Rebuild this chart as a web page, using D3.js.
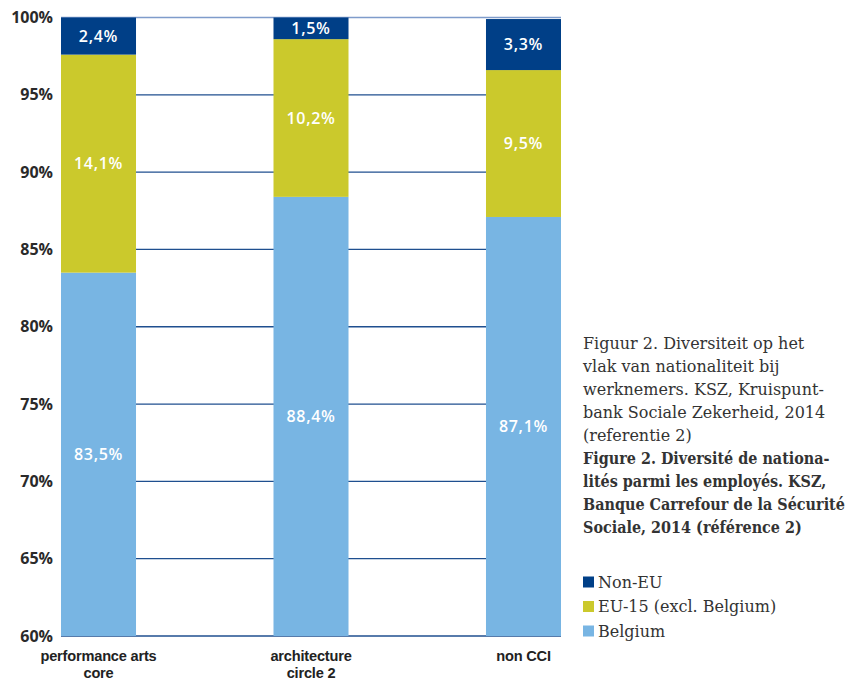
<!DOCTYPE html>
<html><head><meta charset="utf-8">
<script src="https://cdn.jsdelivr.net/npm/d3@7/dist/d3.min.js"></script>
<style>body{margin:0;background:#fff}svg{display:block}</style>
</head><body>
<svg id="c" width="848" height="680"></svg>
<script>
const categories = [["performance arts","core"],["architecture","circle 2"],["non CCI"]];
const categoryKeys = ["performance arts core","architecture circle 2","non CCI"];
const belgium = [83.5, 88.4, 87.1];
const eu15 = [14.1, 10.2, 9.5];
const nonEU = [2.4, 1.5, 3.3];
const seriesNames = ["Belgium","EU-15 (excl. Belgium)","Non-EU"];
const seriesColors = ["#78b5e3","#cbc92c","#003f87"];
const yTicks = [60,65,70,75,80,85,90,95,100];
const captionNL = ["Figuur 2. Diversiteit op het","vlak van nationaliteit bij","werknemers. KSZ, Kruispunt-","bank Sociale Zekerheid, 2014","(referentie 2)"];
const captionFR = ["Figure 2. Diversité de nationa-","lités parmi les employés. KSZ,","Banque Carrefour de la Sécurité","Sociale, 2014 (référence 2)"];

(function(){
const svg = d3.select("#c");
const pL = 61, pR = 561, pT = 17.5, pB = 636;
const x = d3.scaleBand().domain(categoryKeys).range([pL, pR]).paddingInner(0.647).paddingOuter(0);
const y = d3.scaleLinear().domain([60,100]).range([pB, pT]);

svg.append("g").selectAll("line").data(yTicks).join("line")
  .attr("x1", pL).attr("x2", pR)
  .attr("y1", d => y(d)).attr("y2", d => y(d))
  .attr("stroke", d => d === 100 ? "#7f9ccb" : "#1f4f8f")
  .attr("stroke-width", 1.3);

svg.append("g").selectAll("text").data(yTicks).join("text")
  .attr("x", 53).attr("y", d => y(d)).attr("dy", "0.35em")
  .attr("text-anchor", "end")
  .attr("font-family", "Open Sans, sans-serif").attr("font-weight", 700)
  .attr("font-size", 16).attr("fill", "#2a2a2a")
  .text(d => d + "%");

const rows = categoryKeys.map((k,i) => ({key:k, Belgium:belgium[i], "EU-15 (excl. Belgium)":eu15[i], "Non-EU":nonEU[i]}));
const stack = d3.stack().keys(seriesNames)(rows);
const clip = v => Math.max(60, Math.min(100, v));

stack.forEach((s, si) => {
  const g = svg.append("g");
  g.selectAll("rect").data(s).join("rect")
    .attr("x", d => x(d.data.key)).attr("width", x.bandwidth())
    .attr("y", d => y(clip(d[1]))).attr("height", d => y(clip(d[0])) - y(clip(d[1])))
    .attr("fill", seriesColors[si]);
  g.selectAll("text").data(s).join("text")
    .attr("x", d => x(d.data.key) + x.bandwidth()/2)
    .attr("y", d => y((clip(d[0]) + clip(d[1]))/2)).attr("dy", "0.35em")
    .attr("text-anchor", "middle")
    .attr("font-family", "Open Sans, sans-serif").attr("font-weight", 600)
    .attr("font-size", 16).attr("letter-spacing", 0.7).attr("fill", "#fff")
    .text(d => (d[1]-d[0]).toFixed(1).replace(".", ",") + "%");
});

categories.forEach((lines, i) => {
  const cx = x(categoryKeys[i]) + x.bandwidth()/2;
  const t = svg.append("text")
    .attr("x", cx).attr("y", 661)
    .attr("text-anchor", "middle")
    .attr("font-family", "Liberation Sans, Arial, sans-serif")
    .attr("font-weight", 700).attr("font-size", 14.6).attr("letter-spacing", -0.2).attr("fill", "#222");
  lines.forEach((l, j) => t.append("tspan").attr("x", cx).attr("dy", j ? 17 : 0).text(l));
});

const cap = svg.append("g").attr("font-family", "DejaVu Serif, serif").attr("font-size", 16).attr("fill", "#333");
captionNL.forEach((l, i) => cap.append("text").attr("x", 583).attr("y", 349 + i*23).text(l));
const capB = svg.append("g").attr("font-family", "DejaVu Serif, serif").attr("font-size", 16).attr("font-weight", 700).attr("fill", "#333");
capB.selectAll("text").data(captionFR).join("text").attr("x", 0).attr("y", (d, i) => 464 + i*23).text(d => d);
let maxW = 0;
capB.selectAll("text").each(function(){ maxW = Math.max(maxW, this.getComputedTextLength()); });
const sx = Math.min(1, 262 / maxW);
capB.attr("transform", `translate(583,0) scale(${sx},1)`);

[2,1,0].forEach((si, i) => {
  const yy = 582 + i*24.5;
  svg.append("rect").attr("x", 583).attr("y", yy - 5.5).attr("width", 11).attr("height", 11).attr("fill", seriesColors[si]);
  svg.append("text").attr("x", 598).attr("y", yy).attr("dy", "0.35em")
    .attr("font-family", "DejaVu Serif, serif").attr("font-size", 16).attr("fill", "#333").text(seriesNames[si]);
});
})();
</script>
</body></html>
